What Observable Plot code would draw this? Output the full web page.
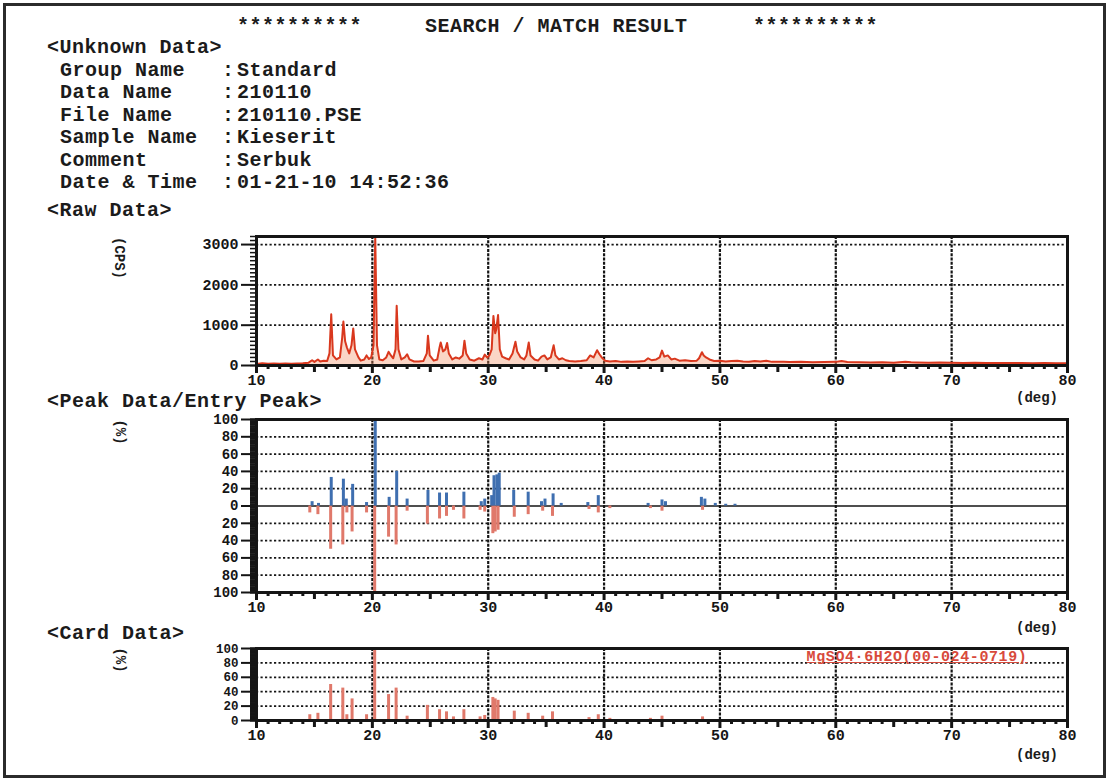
<!DOCTYPE html>
<html><head><meta charset="utf-8">
<script src="https://cdn.jsdelivr.net/npm/d3@7"></script>
<script src="https://cdn.jsdelivr.net/npm/@observablehq/plot@0.6"></script>
<style>
body{margin:0;background:#fff;}
#page{position:relative;width:1110px;height:781px;background:#fff;overflow:hidden;font-family:"Liberation Mono","DejaVu Sans Mono",monospace;font-weight:bold;color:#1b1b1b;}
#border{position:absolute;left:3px;top:3px;width:1097px;height:769px;border:3px solid #2b2b2b;}
.t{position:absolute;white-space:pre;font-size:20px;letter-spacing:0.5px;line-height:20px;}
.plot{position:absolute;left:150px;}
.c{position:absolute;white-space:pre;transform:translate(-50%,-50%);line-height:16px;}
.unit{font-size:14px;}
.rot{transform:translate(-50%,-50%) rotate(90deg);}
#card{font-size:15px;color:#d84a3c;text-decoration:underline;letter-spacing:0.6px;}
</style></head>
<body><div id="page"><div id="border"></div></div>
<script>
// ---------- data ----------
const headerStars = "**********";
const headerTitle = "SEARCH / MATCH RESULT";
const infoLabels = ["Group Name", "Data Name", "File Name", "Sample Name", "Comment", "Date & Time"];
const infoValues = ["Standard", "210110", "210110.PSE", "Kieserit", "Serbuk", "01-21-10 14:52:36"];
const sectionTitles = ["<Unknown Data>", "<Raw Data>", "<Peak Data/Entry Peak>", "<Card Data>"];
const cardName = "MgSO4\u00b76H2O(00-024-0719)";

const xTicks = [10, 20, 30, 40, 50, 60, 70, 80];
const rawYTicks = [0, 1000, 2000, 3000];
const peakYTicks = [-100, -80, -60, -40, -20, 0, 20, 40, 60, 80, 100];
const cardYTicks = [0, 20, 40, 60, 80, 100];

// raw diffraction pattern (2theta in deg, intensity in CPS)
const rawDeg = [10.0,10.5,11.0,11.5,12.0,12.5,13.0,13.5,14.0,14.5,14.8,15.0,15.3,15.5,15.8,16.1,16.3,16.45,16.6,16.9,
 17.2,17.4,17.5,17.65,17.8,18.0,18.2,18.35,18.5,18.8,19.0,19.3,19.5,19.7,19.9,20.1,20.25,20.4,20.6,20.9,
 21.2,21.4,21.6,21.8,22.0,22.1,22.25,22.5,22.8,23.0,23.2,23.6,24.0,24.4,24.7,24.8,24.95,25.3,25.6,25.8,
 25.9,26.1,26.3,26.45,26.6,26.9,27.2,27.5,27.8,27.95,28.1,28.4,28.8,29.2,29.5,29.7,29.9,30.1,30.3,30.45,
 30.6,30.7,30.85,31.0,31.2,31.5,31.8,32.1,32.35,32.5,32.8,33.1,33.3,33.5,33.65,34.0,34.3,34.6,34.85,35.1,
 35.4,35.65,35.8,36.1,36.4,36.7,37.0,37.5,38.0,38.5,38.8,39.1,39.4,39.6,39.8,40.1,40.5,41.0,41.5,42.0,
 42.5,43.0,43.5,43.8,44.1,44.5,44.8,45.0,45.2,45.5,45.8,46.1,46.5,47.0,47.5,48.0,48.2,48.45,48.6,48.8,
 49.1,49.5,50.0,50.5,51.0,51.5,52.0,52.5,53.0,53.5,54.0,54.5,55.0,55.5,56.0,57.0,58.0,59.0,60.0,60.5,
 61.0,62.0,63.0,64.0,65.0,66.0,66.5,67.0,68.0,69.0,70.0,71.0,72.0,73.0,74.0,75.0,76.0,77.0,78.0,79.0,80.0];
const rawCps = [40,55,45,50,42,48,45,50,55,70,130,90,150,100,120,110,300,1270,250,150,
 200,700,1090,600,450,300,500,920,400,200,120,150,250,160,200,500,3180,500,150,130,
 200,340,250,180,400,1480,400,150,200,280,150,100,100,110,300,740,250,120,150,450,
 570,350,400,560,300,150,200,170,250,615,300,150,120,180,150,270,200,250,400,1230,
 800,900,1250,400,220,180,150,300,590,350,200,150,250,570,250,150,120,220,250,150,
 200,500,250,150,180,130,110,100,110,130,250,200,380,280,200,120,100,110,90,100,
 90,100,110,180,130,150,200,370,220,250,150,170,120,130,110,120,180,330,250,200,
 150,110,120,100,110,120,100,95,110,100,120,90,95,90,85,90,80,85,90,110,
 85,80,75,80,70,90,80,75,70,75,70,65,70,60,65,60,62,55,60,55,58];

// measured peaks (relative intensity %, drawn upward in blue)
const peakDeg = [14.8,15.35,16.45,17.5,17.75,18.3,19.5,20.25,21.45,22.1,23.0,24.8,25.8,26.4,27.9,29.4,29.7,
 30.3,30.5,30.75,30.95,32.2,33.45,34.6,34.9,35.6,36.3,38.6,39.5,43.8,45.0,45.3,48.4,48.7,49.6,50.5,51.3];
const peakInt = [5,3,33,31,8,25,4,100,10,40,8,18,15,15,16,5,8,
 12,35,36,38,18,16,5,8,14,3,4,12,3,7,5,10,8,3,2,2];

// card entry peaks MgSO4.6H2O (relative intensity %)
const cardDeg = [14.6,15.3,16.4,17.45,17.8,18.25,19.5,20.2,21.4,22.05,23.0,24.75,25.8,26.4,27.0,27.9,29.3,29.7,
 30.4,30.6,30.85,32.25,33.45,34.7,35.55,38.7,39.5,40.5,44.0,45.0,48.5];
const cardInt = [8,10,50,45,8,30,8,100,36,45,6,21,15,12,5,15,5,7,
 32,30,28,13,10,6,12,4,8,3,3,6,5];

// ---------- build ----------
const page = document.getElementById("page");
function addDiv(cls, text, left, top, extra) {
  const d = document.createElement("div");
  d.className = cls; d.textContent = text;
  d.style.left = left + "px"; d.style.top = top + "px";
  if (extra) Object.assign(d.style, extra);
  page.appendChild(d); return d;
}
addDiv("t", headerStars, 237, 17);
addDiv("t", headerTitle, 425, 17);
addDiv("t", headerStars, 753, 17);
addDiv("t", sectionTitles[0], 47, 38);
infoLabels.forEach((l, i) => {
  const top = 61 + i * 22.4;
  addDiv("t", l, 60, top);
  addDiv("t", ":", 222, top);
  addDiv("t", infoValues[i], 237, top);
});
addDiv("t", sectionTitles[1], 47, 201);
addDiv("t", sectionTitles[2], 47, 392);
addDiv("t", sectionTitles[3], 47, 624);

const raw = rawDeg.map((d, i) => ({deg: d, cps: rawCps[i]}));
const measured = peakDeg.map((d, i) => ({deg: d, v: peakInt[i]}));
const card = cardDeg.map((d, i) => ({deg: d, v: cardInt[i]}));

const ink = "#151515";
function panel(o) {
  const minorX = d3.range(10, 81, 1).filter(v => v % 5 !== 0);
  const midX = d3.range(15, 80, 10);
  return Plot.plot({
    width: 930, height: o.height,
    marginLeft: 106, marginRight: 13, marginTop: o.marginTop, marginBottom: o.marginBottom,
    x: {domain: [10, 80]},
    y: {domain: o.yDomain},
    style: {fontFamily: "Liberation Mono, monospace", fontWeight: "bold", fontSize: "15px", color: ink, background: "transparent", overflow: "visible"},
    marks: [
      Plot.ruleY(o.hGrid, {stroke: ink, strokeWidth: 1.7, strokeDasharray: "2.2,2.3"}),
      Plot.ruleX(xTicks.slice(1, -1), {stroke: ink, strokeWidth: 2.2, strokeDasharray: "3,1.3"}),
      ...o.marks,
      Plot.frame({stroke: ink, strokeWidth: 3}),
      Plot.axisX(minorX, {tickSize: 4, strokeWidth: 3, tickFormat: () => "", label: null}),
      Plot.axisX(midX, {tickSize: 7, strokeWidth: 3, tickFormat: () => "", label: null}),
      Plot.axisX(xTicks, {tickSize: 8, strokeWidth: 3, tickPadding: 1, label: null, tickFormat: d => String(d)}),
      Plot.axisY(d3.range(o.yDomain[0], o.yDomain[1] + 1e-9, o.minorStep), {tickSize: 6, strokeWidth: o.minorWidth, tickFormat: () => "", label: null}),
      Plot.axisY(o.yTicks, {tickSize: 15, strokeWidth: 2, tickPadding: 3, label: null, fontSize: o.yFont, tickFormat: o.yFormat || (d => String(d))})
    ]
  });
}

const rawPlot = panel({
  height: 175, marginTop: 11, marginBottom: 35, yDomain: [0, 3200], yTicks: rawYTicks, minorStep: 100, minorWidth: 1.5, yFont: 15,
  hGrid: [1000, 2000, 3000],
  marks: [
    Plot.areaY(raw, {x: "deg", y: "cps", fill: "#f08a5c", fillOpacity: 0.35}),
    Plot.line(raw, {x: "deg", y: "cps", stroke: "#d9381e", strokeWidth: 2})
  ]
});
rawPlot.classList.add("plot"); rawPlot.style.top = "225px"; page.appendChild(rawPlot);

const peakPlot = panel({
  height: 225, marginTop: 14, marginBottom: 38, yDomain: [-100, 100], yTicks: peakYTicks, minorStep: 2, minorWidth: 2.2, yFont: 14,
  hGrid: [-80, -60, -40, -20, 20, 40, 60, 80], yFormat: d => String(Math.abs(d)),
  marks: [
    Plot.ruleY([0], {stroke: ink, strokeWidth: 1.6}),
    Plot.ruleX(card, {x: "deg", y1: 0, y2: d => -d.v, stroke: "#e0796b", strokeWidth: 3}),
    Plot.ruleX(measured, {x: "deg", y1: 0, y2: "v", stroke: "#3f6fb0", strokeWidth: 3})
  ]
});
peakPlot.classList.add("plot"); peakPlot.style.top = "405px"; page.appendChild(peakPlot);

const cardPlot = panel({
  height: 120, marginTop: 13, marginBottom: 35, yDomain: [0, 100], yTicks: cardYTicks, minorStep: 2, minorWidth: 2.2, yFont: 12.5,
  hGrid: [20, 40, 60, 80],
  marks: [
    Plot.ruleX(card, {x: "deg", y1: 0, y2: "v", stroke: "#e0796b", strokeWidth: 3})
  ]
});
cardPlot.classList.add("plot"); cardPlot.style.top = "635px"; page.appendChild(cardPlot);

addDiv("c unit rot", "(CPS)", 119, 258);
addDiv("c unit rot", "(%)", 120, 432);
addDiv("c unit rot", "(%)", 120, 660);
addDiv("c unit", "(deg)", 1037, 398);
addDiv("c unit", "(deg)", 1037, 628);
addDiv("c unit", "(deg)", 1037, 755);
addDiv("c", cardName, 917, 658, {fontSize: "15px"}).id = "card";
</script>
</body></html>
